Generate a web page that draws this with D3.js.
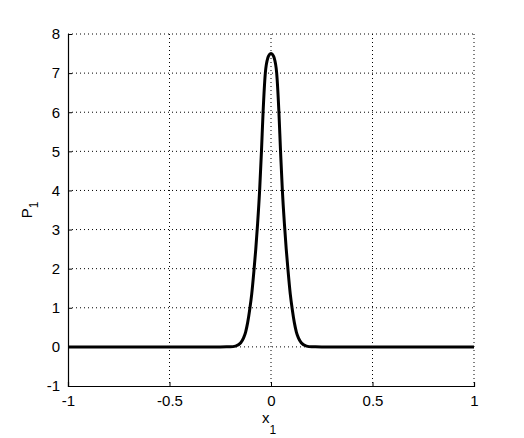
<!DOCTYPE html>
<html lang="en">
<head>
<meta charset="UTF-8">
<script src="https://d3js.org/d3.v7.min.js"></script>
<style>
    body { margin: 0; background: #fff; }
    text { font-family: "Liberation Sans", Arial, sans-serif; fill: #000; }
</style>
</head>
<body>
<svg width="524" height="438"></svg>
<script>

// values (x1, P1)
var xVals = [-1, -0.5, -0.25, -0.2, -0.175, -0.15, -0.135, -0.125, -0.115, -0.105, -0.095,
             -0.084, -0.075, -0.066, -0.056, -0.047, -0.039, -0.028, -0.015, -0.008, 0,
             0.008, 0.015, 0.028, 0.039, 0.047, 0.056, 0.066, 0.075, 0.084,
             0.095, 0.105, 0.115, 0.125, 0.135, 0.15, 0.175, 0.2, 0.25, 0.5, 1];
var pVals = [0, 0, 0, 0.002, 0.02, 0.1, 0.23, 0.38, 0.62, 0.95, 1.35,
             1.95, 2.5, 3.15, 4, 5, 6, 7, 7.4, 7.47, 7.5,
             7.47, 7.4, 7, 6, 5, 4, 3.15, 2.5, 1.95,
             1.35, 0.95, 0.62, 0.38, 0.23, 0.1, 0.02, 0.002, 0, 0, 0];

var xTicks = [-1, -0.5, 0, 0.5, 1];
var yTicks = [-1, 0, 1, 2, 3, 4, 5, 6, 7, 8];

var margin = {top: 34, right: 50, bottom: 52, left: 68},
    width = 474 - margin.left,
    height = 386 - margin.top;

var x = d3.scaleLinear().domain([-1, 1]).range([0, width]);
var y = d3.scaleLinear().domain([-1, 8]).range([height, 0]);

var svg = d3.select("svg")
  .append("g")
    .attr("transform", "translate(" + margin.left + "," + margin.top + ")");

// dotted grid
svg.append("g")
  .selectAll("line")
  .data(xTicks.slice(1))
  .enter().append("line")
    .attr("x1", function(d) { return x(d); })
    .attr("x2", function(d) { return x(d); })
    .attr("y1", 0)
    .attr("y2", height)
    .attr("stroke", "#000")
    .attr("stroke-dasharray", "1,3");

svg.append("g")
  .selectAll("line")
  .data(yTicks.slice(1))
  .enter().append("line")
    .attr("x1", 0)
    .attr("x2", width)
    .attr("y1", function(d) { return y(d); })
    .attr("y2", function(d) { return y(d); })
    .attr("stroke", "#000")
    .attr("stroke-dasharray", "1,3");

// axes, ticks pointing inward, plain hyphen for minus
var xAxis = d3.axisBottom(x).tickValues(xTicks).tickSize(-4).tickPadding(9)
  .tickFormat(function(d) { return String(d); });
var yAxis = d3.axisLeft(y).tickValues(yTicks).tickSize(-4).tickPadding(8)
  .tickFormat(function(d) { return String(d); });

var gx = svg.append("g")
    .attr("transform", "translate(0," + height + ")")
    .call(xAxis);
var gy = svg.append("g")
    .call(yAxis);

[gx, gy].forEach(function(g) {
  g.select(".domain").attr("stroke", "#000").attr("stroke-width", 1.2);
  g.selectAll(".tick line").attr("stroke", "#000");
  g.selectAll(".tick text").style("font-size", "15px").attr("fill", "#000");
});

// curve
var line = d3.line()
    .x(function(d, i) { return x(xVals[i]); })
    .y(function(d) { return y(d); })
    .curve(d3.curveMonotoneX);

svg.append("path")
    .datum(pVals)
    .attr("fill", "none")
    .attr("stroke", "#000")
    .attr("stroke-width", 3)
    .attr("stroke-linejoin", "round")
    .attr("d", line);

// axis labels
var xl = svg.append("text")
    .attr("x", x(0) - 2)
    .attr("y", height + 37)
    .attr("text-anchor", "middle")
    .style("font-size", "15px");
xl.append("tspan").text("x");
xl.append("tspan").attr("dy", 11).style("font-size", "12px").text("1");

var yl = svg.append("text")
    .attr("transform", "translate(" + (-36) + "," + y(3.5) + ") rotate(-90)")
    .attr("text-anchor", "middle")
    .style("font-size", "15px");
yl.append("tspan").text("P");
yl.append("tspan").attr("dy", 6).style("font-size", "12px").text("1");

</script>
</body>
</html>
